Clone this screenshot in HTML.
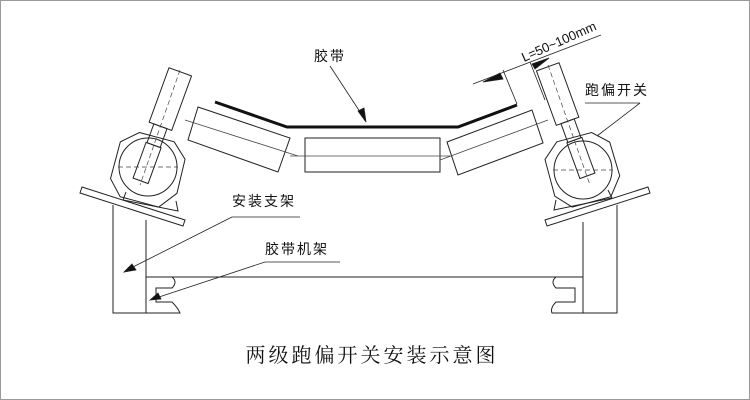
<!DOCTYPE html>
<html><head><meta charset="utf-8"><style>body{margin:0;background:#fff}svg{display:block}</style></head><body>
<svg width="750" height="400" viewBox="0 0 750 400" xmlns="http://www.w3.org/2000/svg" font-family="'Liberation Sans','Noto Sans CJK SC',sans-serif">
<rect x="0.5" y="0.5" width="749" height="399" fill="#fff" stroke="#999"/>
<g fill="none" stroke="#222" stroke-width="1">
<path d="M113 205 V313 H146 V220"/>
<path d="M146 277 H583"/>
<path d="M146 277 H172 Q178 282 172 288 H156 V302 H172 Q178 308 180 313 H146"/>
<path d="M583 222 V313 H617 V205"/>
<path d="M583 277 H556 Q550 282 556 288 H575 V302 H556 Q550 308 552 313 H583"/>
<polygon points="82,187 185,220 183,226 80,193"/>
<polygon points="648,187 545,220 547,226 650,193"/>
<circle cx="148" cy="167" r="29"/>
<g transform="rotate(15 148 170)"><polygon points="130,136 166,136 181,150 182,185 168,203 128,203 114,188 114,150"/></g>
<path d="M126 192 L123 200 L178 211 L176 201"/>
<g transform="rotate(20 170 100)"><rect x="158" y="70" width="24" height="58"/><rect x="163" y="128" width="14" height="20"/><rect x="162" y="148" width="16" height="38"/></g>
<circle cx="583" cy="170" r="29"/>
<g transform="rotate(-15 583 170)"><polygon points="565,136 601,136 616,150 617,185 603,203 563,203 549,188 549,150"/></g>
<path d="M556 200 L554 210 L612 198 L608 190"/>
<g transform="rotate(-20 558 95)"><rect x="546" y="65" width="24" height="58"/><rect x="551" y="123" width="14" height="20"/><rect x="550" y="143" width="16" height="38"/></g>
<polygon points="198,107 290,138 278,172 188,140"/>
<rect x="305" y="138" width="135" height="34"/>
<polygon points="447,142 532,110 543,143 458,175"/>
</g>
<g fill="none" stroke="#444" stroke-width="0.7" stroke-dasharray="5,3">
<line x1="180" y1="70" x2="140" y2="185"/><line x1="118" y1="167" x2="178" y2="167"/>
<line x1="548" y1="65" x2="590" y2="185"/><line x1="553" y1="170" x2="613" y2="170"/>
</g>
<g stroke="#444" stroke-width="0.8">
<line x1="185" y1="120" x2="298" y2="156"/><line x1="290" y1="156" x2="450" y2="156"/><line x1="440" y1="160" x2="548" y2="120"/>
</g>
<polyline points="215,102 287,127 458,127 517,105" fill="none" stroke="#111" stroke-width="3"/>
<g stroke="#222" stroke-width="0.8" fill="#111">
<line x1="473" y1="84" x2="601" y2="35"/>
<line x1="503" y1="70" x2="517" y2="104"/>
<line x1="530" y1="62" x2="545" y2="100"/>
<polygon points="483,82 500,73 503,79"/>
<polygon points="549,58 532,64 535,69"/>
</g>
<text x="0" y="0" font-size="13" fill="#111" transform="translate(524,62) rotate(-24)">L=50~100mm</text>
<g font-size="14" fill="#111" letter-spacing="2">
<text x="314" y="61">胶带</text>
<text x="585" y="95">跑偏开关</text>
<text x="232" y="206">安装支架</text>
<text x="265" y="254">胶带机架</text>
</g>
<g stroke="#222" stroke-width="0.8" fill="#111">
<line x1="330" y1="66" x2="364" y2="118"/><polygon points="366,122 358,111 364,108"/>
<line x1="585" y1="103" x2="640" y2="103"/><line x1="640" y1="103" x2="597" y2="136"/>
<line x1="232" y1="217" x2="300" y2="217"/><line x1="232" y1="217" x2="127" y2="270"/><polygon points="124,272 132,264 136,270"/>
<line x1="265" y1="262" x2="340" y2="262"/><line x1="265" y1="262" x2="153" y2="299"/><polygon points="150,300 158,293 161,299"/>
</g>
<text x="372" y="362" font-size="20" fill="#111" text-anchor="middle" font-family="'Liberation Serif','Noto Serif CJK SC',serif" letter-spacing="3">两级跑偏开关安装示意图</text>
</svg>
</body></html>
